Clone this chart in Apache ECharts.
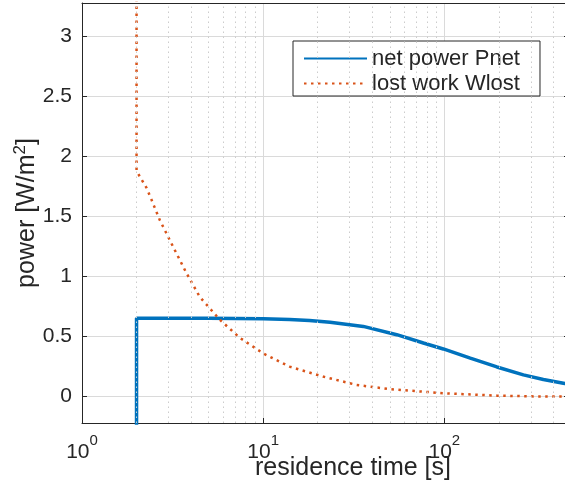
<!DOCTYPE html>
<html>
<head>
<meta charset="utf-8">
<script src="https://cdn.jsdelivr.net/npm/echarts@6/dist/echarts.min.js"></script>
<style>
  html, body { margin: 0; padding: 0; overflow: hidden; background: #fff; }
  #main { width: 575px; height: 486px; }
</style>
</head>
<body>
<div id="main"></div>
<script>
// net power Pnet [residence time s, W/m2]
var netPower = [
    [2, -0.5], [2, 0.653], [5, 0.652], [10, 0.648], [14, 0.643], [18, 0.635],
    [23.4, 0.62], [35.7, 0.585], [54.6, 0.516], [76.6, 0.447], [98.7, 0.397],
    [139, 0.32], [195, 0.247], [273, 0.181], [352, 0.143], [454, 0.112], [500, 0.1]
];
// lost work Wlost
var lostWork = [
    [2, 3.6], [2, 1.88], [2.27, 1.74], [2.42, 1.64], [2.69, 1.47], [3.18, 1.25],
    [3.77, 1.03], [4.47, 0.83], [5.77, 0.64], [7.43, 0.49], [10, 0.36],
    [14, 0.25], [21.4, 0.167], [32.8, 0.097], [50, 0.062], [99, 0.028],
    [195, 0.008], [300, 0.002], [500, 0.0]
];
var minorX = [2, 3, 4, 5, 6, 7, 8, 9, 20, 30, 40, 50, 60, 70, 80, 90, 200, 300, 400];
var seriesNames = ['net power Pnet', 'lost work Wlost'];

var txt = '#262626';
var font = 'Liberation Sans';

var myChart = echarts.init(document.getElementById('main'));
var option = {
    animation: false,
    textStyle: { fontFamily: font, color: txt },
    grid: {
        left: 82,
        right: 4,
        top: 3,
        bottom: 63,
        containLabel: false,
        outerBoundsMode: 'none'
    },
    legend: {
        data: seriesNames,
        left: 293,
        top: 41,
        orient: 'vertical',
        padding: [5, 20, 0, 10],
        itemWidth: 63,
        itemHeight: 14,
        itemGap: 0,
        backgroundColor: '#fff',
        borderColor: txt,
        borderWidth: 1,
        borderRadius: 0,
        itemStyle: { opacity: 0 },
        textStyle: {
            fontFamily: font,
            fontSize: 22,
            lineHeight: 25,
            color: txt
        }
    },
    xAxis: [{
        type: 'log',
        logBase: 10,
        min: 1,
        max: 500,
        name: 'residence time [s]',
        nameLocation: 'middle',
        nameGap: 33,
        nameMoveOverlap: false,
        nameTextStyle: {
            fontFamily: font,
            fontSize: 25,
            color: txt,
            padding: [0, 0, 0, 53]
        },
        axisLine: { show: true, onZero: false, lineStyle: { color: txt, width: 1 } },
        axisTick: { show: true, inside: true, length: 5, lineStyle: { color: txt } },
        axisLabel: {
            margin: 10,
            color: txt,
            formatter: function (v) {
                var e = Math.round(Math.log10(v));
                if (Math.abs(Math.pow(10, e) - v) > 1e-6 * v) {
                    return '';
                }
                return '{b|10}{sup|' + e + '}';
            },
            rich: {
                b: { fontFamily: font, fontSize: 21, lineHeight: 30, color: txt, verticalAlign: 'bottom' },
                sup: { fontFamily: font, fontSize: 15, lineHeight: 15, color: txt, verticalAlign: 'top' }
            }
        },
        splitLine: { show: true, lineStyle: { color: '#dadada', width: 1 } }
    }, {
        type: 'log',
        logBase: 10,
        min: 1,
        max: 500,
        position: 'top',
        axisLine: { show: true, onZero: false, lineStyle: { color: txt, width: 1 } },
        axisTick: { show: false },
        axisLabel: { show: false },
        splitLine: { show: false }
    }],
    yAxis: [{
        type: 'value',
        min: -0.22,
        max: 3.28,
        splitNumber: 7,
        name: 'power [W/m{sup|2}]',
        nameLocation: 'middle',
        nameRotate: 90,
        nameGap: 40,
        nameMoveOverlap: false,
        nameTextStyle: {
            fontFamily: font,
            fontSize: 25,
            lineHeight: 30,
            color: txt,
            rich: {
                sup: { fontFamily: font, fontSize: 17, lineHeight: 17, color: txt, verticalAlign: 'top' }
            }
        },
        axisLine: { show: true, onZero: false, lineStyle: { color: txt, width: 1 } },
        axisTick: { show: true, inside: true, length: 5, lineStyle: { color: txt } },
        axisLabel: {
            showMinLabel: false,
            showMaxLabel: false,
            margin: 10,
            fontFamily: font,
            fontSize: 21,
            color: txt
        },
        splitLine: { show: true, lineStyle: { color: '#dadada', width: 1 } }
    }, {
        type: 'value',
        min: -0.22,
        max: 3.28,
        splitNumber: 7,
        position: 'right',
        axisLine: { show: true, onZero: false, lineStyle: { color: txt, width: 1 } },
        axisTick: { show: true, inside: true, length: 7, lineStyle: { color: txt } },
        axisLabel: { show: false, showMinLabel: false, showMaxLabel: false },
        splitLine: { show: false }
    }],
    series: [{
        name: 'minor grid',
        type: 'line',
        z: 1,
        data: [],
        markLine: {
            silent: true,
            symbol: 'none',
            label: { show: false },
            lineStyle: { color: '#cccccc', width: 1, type: [1.5, 3.5] },
            data: minorX.map(function (v) { return { xAxis: v }; })
        }
    }, {
        name: seriesNames[0],
        type: 'line',
        data: netPower,
        symbol: 'none',
        clip: true,
        lineStyle: { color: '#0072BD', width: 3.5 },
        itemStyle: { color: '#0072BD' }
    }, {
        name: seriesNames[1],
        type: 'line',
        data: lostWork,
        symbol: 'none',
        clip: true,
        lineStyle: { color: '#D95319', width: 2.5, type: [2.5, 4.5] },
        itemStyle: { color: '#D95319' }
    }]
};
myChart.setOption(option);
</script>
</body>
</html>
